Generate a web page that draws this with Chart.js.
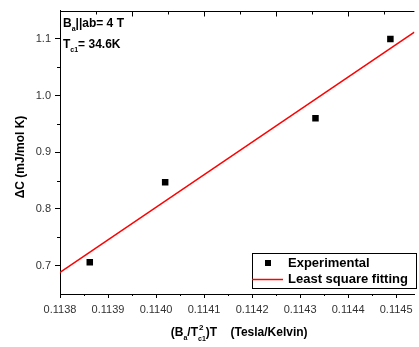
<!DOCTYPE html>
<html><head><meta charset="utf-8">
<script src="https://cdn.jsdelivr.net/npm/chart.js@4"></script>
<style>html,body{margin:0;padding:0;background:#fff;}#wrap{width:419px;height:347px;}</style>
</head><body><div id="wrap"><canvas id="c" width="419" height="347"></canvas></div>
<script>
const expX = [0.113862, 0.114019, 0.114332, 0.114488];
const expY = [0.706, 0.847, 0.960, 1.100];
const fitX = [0.1138, 0.114538];
const fitY = [0.688, 1.112];
const xTicks = [0.1138, 0.1139, 0.1140, 0.1141, 0.1142, 0.1143, 0.1144, 0.1145];
const xMinor = [0.11385, 0.11395, 0.11405, 0.11415, 0.11425, 0.11435, 0.11445];
const yTicks = [0.7, 0.8, 0.9, 1.0, 1.1];
const yMinor = [0.75, 0.85, 0.95, 1.05];
const topMajor = [0.11395, 0.1141, 0.11425, 0.1144];
const topMinor = [0.113875, 0.114025, 0.114175, 0.114325, 0.114475];
const seriesNames = ['Experimental', 'Least square fitting'];
const yTitle = 'ΔC (mJ/mol K)';
const FONT = '"Liberation Sans", Arial, sans-serif';

function drawRich(ctx, x, y, parts, size) {
  ctx.textBaseline = 'alphabetic';
  ctx.textAlign = 'left';
  let cx = x;
  for (const p of parts) {
    const [t, k, t2] = p;
    if (k === 'n') {
      ctx.font = 'bold ' + size + 'px ' + FONT;
      ctx.fillText(t, cx, y); cx += ctx.measureText(t).width;
    } else if (k === 'sub') {
      ctx.font = 'bold ' + Math.round(size * 0.6) + 'px ' + FONT;
      ctx.fillText(t, cx, y + 4); cx += ctx.measureText(t).width;
    } else if (k === 'supsub') {
      ctx.font = 'bold ' + Math.round(size * 0.7) + 'px ' + FONT;
      ctx.fillText(t, cx + 1, y - 6);
      const w1 = ctx.measureText(t).width;
      ctx.font = 'bold ' + Math.round(size * 0.6) + 'px ' + FONT;
      ctx.fillText(t2, cx, y + 5);
      const w2 = ctx.measureText(t2).width;
      cx += Math.max(w1, w2);
    }
  }
  return cx - x;
}
function measureRich(ctx, parts, size) {
  let w = 0;
  for (const [t, k, t2] of parts) {
    if (k === 'n') { ctx.font = 'bold ' + size + 'px ' + FONT; w += ctx.measureText(t).width; }
    else if (k === 'sub') { ctx.font = 'bold ' + Math.round(size * 0.6) + 'px ' + FONT; w += ctx.measureText(t).width; }
    else { ctx.font = 'bold ' + Math.round(size * 0.7) + 'px ' + FONT; const a = ctx.measureText(t).width;
      ctx.font = 'bold ' + Math.round(size * 0.6) + 'px ' + FONT; w += Math.max(a, ctx.measureText(t2).width); }
  }
  return w;
}

const extras = {
  id: 'extras',
  afterDraw(chart) {
    const { ctx, chartArea: a, scales: { x, y } } = chart;
    ctx.save();
    ctx.strokeStyle = '#000'; ctx.lineWidth = 1;
    const ln = (x1, y1, x2, y2) => { ctx.beginPath(); ctx.moveTo(x1, y1); ctx.lineTo(x2, y2); ctx.stroke(); };
    const ty = Math.round(a.top) + 0.5;
    ln(a.left, ty, a.right, ty);
    topMajor.forEach(v => { const px = Math.round(x.getPixelForValue(v)) + 0.5; ln(px, ty, px, ty + 5); });
    topMinor.forEach(v => { const px = Math.round(x.getPixelForValue(v)) + 0.5; ln(px, ty, px, ty + 3); });
    const by = Math.round(a.bottom);
    xMinor.forEach(v => { const px = Math.round(x.getPixelForValue(v)) + 0.5; ln(px, by, px, by + 2); });
    const lx = Math.round(a.left);
    yMinor.forEach(v => { const py = Math.round(y.getPixelForValue(v)) + 0.5; ln(lx, py, lx - 3, py); });

    ctx.save();
    ctx.translate(21, 157);
    ctx.rotate(-Math.PI / 2);
    ctx.fillStyle = '#000';
    ctx.font = 'bold 12px ' + FONT;
    ctx.textAlign = 'center'; ctx.textBaseline = 'middle';
    ctx.fillText(yTitle, 0, 0);
    ctx.restore();

    ctx.fillStyle = '#000';
    drawRich(ctx, 63, 27, [['B', 'n'], ['a', 'sub'], ['||ab= 4 T', 'n']], 12);
    drawRich(ctx, 63, 48, [['T', 'n'], ['c1', 'sub'], ['= 34.6K', 'n']], 12);

    const tparts = [['(B', 'n'], ['a', 'sub'], ['/T', 'n'], ['2', 'supsub', 'c1'], [')T    (Tesla/Kelvin)', 'n']];
    const tw = measureRich(ctx, tparts, 12);
    drawRich(ctx, (a.left + a.right) / 2 - tw / 2 + 2, 336, tparts, 12);

    const L = 252, T = 253, W = 164, H = 35;
    ctx.strokeStyle = '#000'; ctx.lineWidth = 1;
    ctx.strokeRect(L + 0.5, T + 0.5, W, H);
    ctx.fillStyle = '#000';
    ctx.fillRect(265, 260, 6, 6);
    ctx.strokeStyle = '#ff0000'; ctx.lineWidth = 1.5;
    ln(L, 279.5, 283, 279.5);
    ctx.fillStyle = '#000';
    ctx.font = 'bold 13px ' + FONT;
    ctx.textBaseline = 'middle'; ctx.textAlign = 'left';
    ctx.fillText(seriesNames[0], 288, 263.5);
    ctx.fillText(seriesNames[1], 288, 279.5);
    ctx.restore();
  }
};

new Chart(document.getElementById('c'), {
  type: 'scatter',
  data: {
    datasets: [
      { label: seriesNames[0], data: expX.map((v, i) => ({ x: v, y: expY[i] })),
        pointStyle: 'rect', pointRadius: 4.6, backgroundColor: '#000', borderColor: '#000', borderWidth: 0, showLine: false },
      { label: seriesNames[1], data: fitX.map((v, i) => ({ x: v, y: fitY[i] })),
        showLine: true, pointRadius: 0, borderColor: '#ff0000', borderWidth: 1.5, backgroundColor: '#ff0000' }
    ]
  },
  options: {
    responsive: false, animation: false, devicePixelRatio: 1,
    layout: { padding: { top: 7, right: 0, left: 0, bottom: 0 } },
    plugins: { legend: { display: false }, tooltip: { enabled: false } },
    scales: {
      x: {
        type: 'linear', position: 'bottom', min: 0.1138, max: 0.114538,
        afterBuildTicks: s => { s.ticks = xTicks.map(v => ({ value: v })); },
        afterFit: s => { s.height = 53; },
        ticks: { callback: v => v.toFixed(4), font: { family: FONT, size: 11 }, color: '#333', padding: 5, maxRotation: 0, autoSkip: false },
        grid: { drawOnChartArea: false, drawTicks: true, tickLength: 4, color: '#000' },
        border: { display: true, color: '#000', width: 1 }
      },
      y: {
        type: 'linear', position: 'left', min: 0.65, max: 1.15,
        afterBuildTicks: s => { s.ticks = yTicks.map(v => ({ value: v })); },
        afterFit: s => { s.width = 60; },
        ticks: { callback: v => v.toFixed(1), font: { family: FONT, size: 11 }, color: '#333', padding: 4 },
        grid: { drawOnChartArea: false, drawTicks: true, tickLength: 5, color: '#000' },
        border: { display: true, color: '#000', width: 1 },
        title: { display: false }
      }
    }
  },
  plugins: [extras]
});
</script></body></html>
